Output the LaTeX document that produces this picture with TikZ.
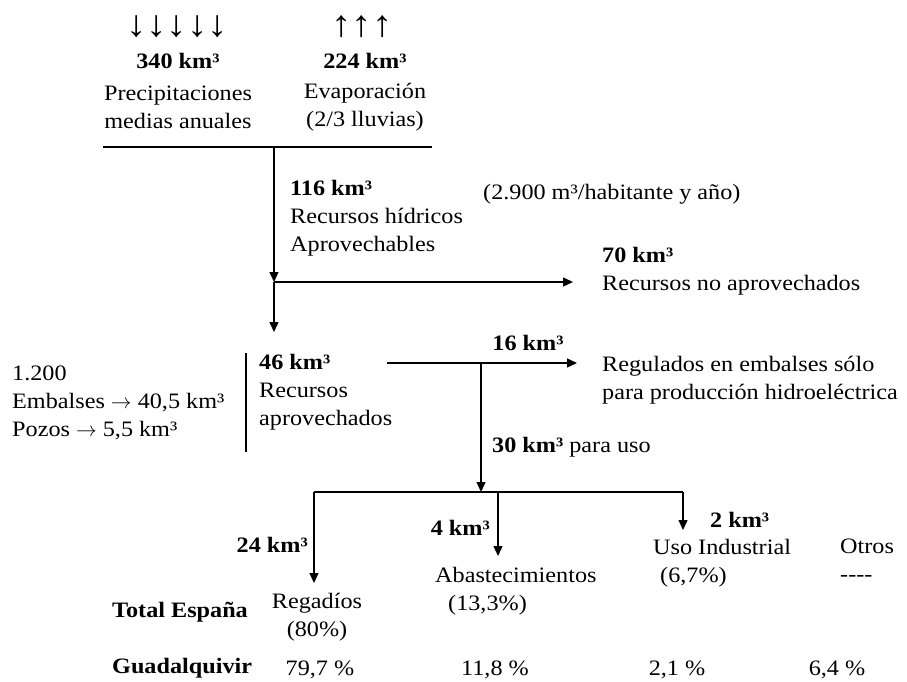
\documentclass[tikz,border=0pt]{standalone}
\usepackage{fontspec}
\setmainfont{Liberation Serif}[FakeStretch=1.1]
\usetikzlibrary{positioning, arrows.meta}

\begin{document}
\begin{tikzpicture}[
    x=1pt, y=-1pt,
    every node/.style={inner sep=0pt, font=\fontsize{22}{28}\selectfont},
    val/.style={font=\fontsize{22}{28}\selectfont\bfseries},
    rainarrows/.style={font=\fontsize{37}{37}\selectfont\bfseries},
    txt/.style={align=left, anchor=west},
    mid/.style={align=center},
    flow/.style={draw, -{Triangle[length=10pt, width=9pt]}, line width=1.3pt},
    rule/.style={draw, line width=1.3pt}
]
\useasboundingbox (0,0) rectangle (907,682);

\node[rainarrows] (rain) at (177,27) {↓↓↓↓↓};
\node[rainarrows] (evap) at (362,27) {↑↑↑};
\node[val] (rainval) at (178,61) {340 km³};
\node[val] (evapval) at (365,61) {224 km³};
\node[mid] (raintxt) at (178,107) {Precipitaciones\\medias anuales};
\node[mid] (evaptxt) at (365,107) {Evaporación\\(2/3 lluvias)};

\coordinate (topl) at (103,147);
\coordinate (topr) at (432,147);
\coordinate (split) at (274,147);
\coordinate (lost) at (274,282);
\coordinate (lostend) at (573,282);
\coordinate (used) at (274,332);
\draw[rule] (topl) -- (topr);
\draw[flow] (split) -- (lost);
\draw[flow] (lost) -- (lostend);
\draw[flow] (lost) -- (used);

\node[txt] (hidricos) at (290,218) {\textbf{116 km³}\\Recursos hídricos\\Aprovechables};
\node[txt] (perhab) at (483,194) {(2.900 m³/habitante y año)};
\node[txt] (noaprov) at (602,271) {\textbf{70 km³}\\Recursos no aprovechados};

\node[txt] (obras) at (12,403) {1.200\\Embalses $\rightarrow$ 40,5 km³\\Pozos $\rightarrow$ 5,5 km³};
\coordinate (bart) at (246,353);
\coordinate (barb) at (246,452);
\draw[rule] (bart) -- (barb);
\node[txt] (aprov) at (259,392) {\textbf{46 km³}\\Recursos\\aprovechados};

\coordinate (hydro) at (387,363);
\coordinate (hydrosplit) at (481,363);
\coordinate (hydroend) at (577,363);
\coordinate (reparto) at (481,492);
\draw[flow] (hydro) -- (hydroend);
\draw[flow] (hydrosplit) -- (reparto);
\node[val] (hydroval) at (528,343) {16 km³};
\node[txt] (regulados) at (602,380) {Regulados en embalses sólo\\para producción hidroeléctrica};
\node[txt] (parauso) at (492,447) {\textbf{30 km³} para uso};

\coordinate (repl) at (314,492);
\coordinate (repr) at (683,492);
\coordinate (repm) at (498,492);
\coordinate (riego) at (314,583);
\coordinate (abast) at (498,556);
\coordinate (indus) at (683,530);
\draw[rule] (repl) -- (repr);
\draw[flow] (repl) -- (riego);
\draw[flow] (repm) -- (abast);
\draw[flow] (repr) -- (indus);

\node[val, anchor=east] (riegoval) at (308,545) {24 km³};
\node[val, anchor=east] (abastval) at (490,528) {4 km³};
\node[val, anchor=west] (indusval) at (710,520) {2 km³};

\node[mid] (regadios) at (317,617) {Regadíos\\(80\%)};
\node[txt] (abastec) at (435,591) {Abastecimientos\\\hspace*{13pt}(13,3\%)};
\node[txt, anchor=north west] (industrial) at (653,539) {Uso Industrial\\\hspace*{7pt}(6,7\%)};
\node[txt, anchor=north west] (otros) at (840,539) {Otros\\-{}-{}-{}-};

\node[val, anchor=west] (total) at (112,612) {Total España};
\node[val, anchor=west] (guadal) at (112,668) {Guadalquivir};
\node (gregadio) at (320,670) {79,7 \%};
\node (gabast) at (495,670) {11,8 \%};
\node (gindus) at (677,670) {2,1 \%};
\node (gotros) at (837,670) {6,4 \%};
\end{tikzpicture}
\end{document}
